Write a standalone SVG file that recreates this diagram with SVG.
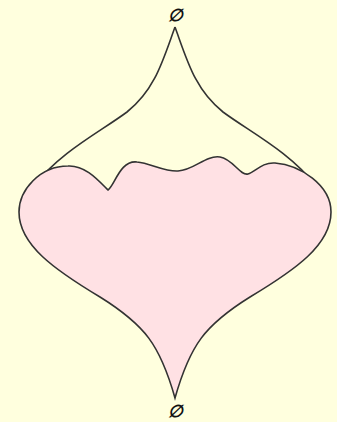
<svg xmlns="http://www.w3.org/2000/svg" width="337" height="422" viewBox="0 0 337 422">
<style>
.ln{fill:none;stroke:#333;stroke-width:1.6}
.sh{fill:#FFE1E4;stroke:#333;stroke-width:1.6}
.lb{font-family:"DejaVu Serif",serif;font-style:italic;font-weight:bold;font-size:17px;fill:#111;text-anchor:middle}
</style>
<rect width="337" height="422" fill="#FFFFDE"/>
<g id="connectors">
<path class="ln" d="M175,27 C163,60 155,90 127,112 C100,132 60,152 34,186"/>
<path class="ln" d="M175,27 C187,60 195,90 223,112 C250,132 290,152 316,186"/>
</g>
<g id="shape">
<path class="sh" d="M19,212 C19,190 40,166 68,166 C85,165 98,180 108,190 C115,185 120,160 137,162 C150,163 165,172 178,171 C195,170 205,155 220,157 C233,159 240,176 248,174 C255,172 262,162 275,163 C300,165 331,185 331,212 C331,245 295,270 250,297 C205,325 190,345 175,398 C160,345 145,325 100,297 C55,270 19,245 19,212 Z"/>
</g>
<g id="top"><text class="lb" x="175" y="21">∅</text></g>
<g id="bottom"><text class="lb" x="175" y="417">∅</text></g>
</svg>
